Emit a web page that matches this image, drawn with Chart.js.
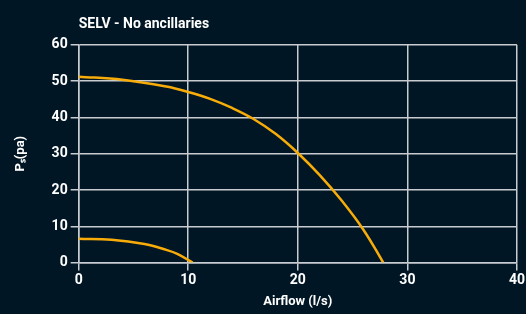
<!DOCTYPE html>
<html>
<head>
<meta charset="utf-8">
<script src="https://cdn.jsdelivr.net/npm/chart.js@4"></script>
<style>
  html, body { margin: 0; padding: 0; background: #011624; }
  .graphCanvas { width: 526px; height: 314px; }
</style>
</head>
<body>
<div class="graphCanvas"><canvas id="myChart"></canvas></div>
<script>
const highFlow = [0, 4, 8, 10, 12, 14, 16, 18, 20, 22, 24, 26, 27.8];
const highPressure = [51.2, 50.4, 48.5, 47.0, 45.1, 42.6, 39.5, 35.4, 30.2, 24.1, 17.1, 9.0, 0];
const lowFlow = [0, 3, 6, 8, 9, 10.4];
const lowPressure = [6.6, 6.3, 5.1, 3.5, 2.4, 0];
const xTicks = [0, 10, 20, 30, 40];
const yTicks = [0, 10, 20, 30, 40, 50, 60];

const toPoints = (xs, ys) => xs.map((x, i) => ({ x: x, y: ys[i] }));
const font = { family: "Roboto", weight: "bold", size: 14 };

new Chart(document.getElementById("myChart"), {
  type: "scatter",
  data: {
    datasets: [
      {
        label: "High",
        data: toPoints(highFlow, highPressure),
        showLine: true,
        borderColor: "#f7ac0a",
        borderWidth: 2.5,
        pointRadius: 0,
        tension: 0.4,
      },
      {
        label: "Low",
        data: toPoints(lowFlow, lowPressure),
        showLine: true,
        borderColor: "#f7ac0a",
        borderWidth: 2.5,
        pointRadius: 0,
        tension: 0.4,
      },
    ],
  },
  options: {
    responsive: true,
    maintainAspectRatio: false,
    animation: false,
    layout: { padding: { left: 13, right: 0, top: 14, bottom: 4 } },
    plugins: {
      legend: { display: false },
      tooltip: { enabled: false },
      title: {
        display: true,
        text: "SELV - No ancillaries",
        align: "start",
        fullSize: false,
        color: "#ffffff",
        font: { family: "Roboto", weight: "bold", size: 14 },
        padding: { top: 2, bottom: 12 },
      },
    },
    scales: {
      x: {
        type: "linear",
        min: 0,
        max: 40,
        afterBuildTicks: (axis) => { axis.ticks = xTicks.map((v) => ({ value: v })); },
        grid: { color: "#c8ccd0", lineWidth: 1.5, tickLength: 8 },
        border: { color: "#c8ccd0", width: 1.5 },
        ticks: { color: "#ffffff", font: font, padding: 1 },
        title: {
          display: true,
          text: "Airflow (l/s)",
          color: "#ffffff",
          font: { family: "Roboto", weight: "bold", size: 13 },
          padding: { top: 5, bottom: 0 },
        },
      },
      y: {
        min: 0,
        max: 60,
        afterBuildTicks: (axis) => { axis.ticks = yTicks.map((v) => ({ value: v })); },
        grid: { color: "#c8ccd0", lineWidth: 1.5, tickLength: 8 },
        border: { color: "#c8ccd0", width: 1.5 },
        ticks: { color: "#ffffff", font: font, padding: 3 },
        title: {
          display: true,
          text: "Pₛ(pa)",
          color: "#ffffff",
          font: { family: "Roboto", weight: "bold", size: 13 },
          padding: { top: 0, bottom: 20 },
        },
      },
    },
  },
});
</script>
</body>
</html>
